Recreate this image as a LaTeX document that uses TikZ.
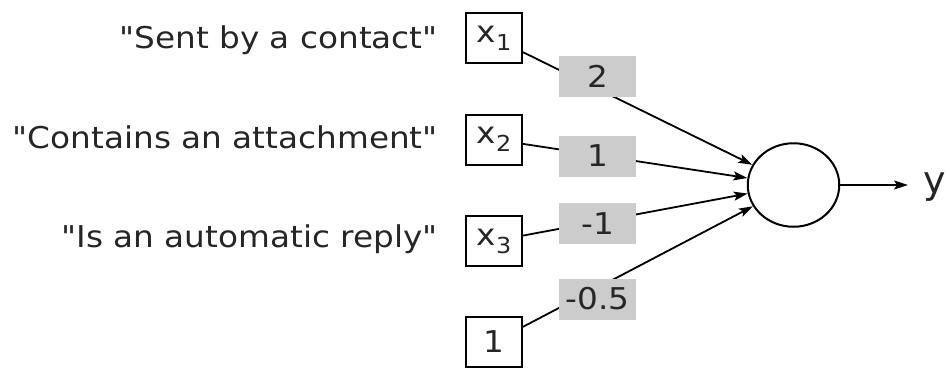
\documentclass[tikz,border=0pt]{standalone}
\usepackage{fontspec}
\setmainfont{DejaVu Sans}[FakeStretch=1.09,Ligatures=TeXOff]
\newfontfamily\yfont{DejaVu Sans}
\usetikzlibrary{arrows.meta,shapes.geometric}
\begin{document}
\begin{tikzpicture}[x=1pt,y=-1pt,
  lbl/.style={anchor=base east,inner sep=0pt,font=\fontsize{30}{36}\selectfont,text=black!85},
  inbox/.style={draw,line width=2pt,minimum width=56pt,minimum height=50pt,inner sep=0pt,font=\fontsize{30}{36}\selectfont,text=black!85},
  wbox/.style={fill=black!20,minimum width=77pt,minimum height=41pt,inner sep=0pt,font=\fontsize{30}{36}\selectfont,text=black!85},
  neuron/.style={draw,ellipse,line width=2pt,minimum width=91.5pt,minimum height=83.5pt,inner sep=0pt},
  arr/.style={line width=1.8pt,-{Stealth[length=14pt,width=9pt,inset=3pt]}}]
\newcommand{\sbx}[1]{x\raisebox{-0.27em}{\fontsize{22}{22}\selectfont #1}}
\useasboundingbox (0,0) rectangle (947,367);
\node[lbl] (l1) at (438,48) {"Sent by a contact"};
\node[lbl] (l2) at (438,148) {"Contains an attachment"};
\node[lbl] (l3) at (438,247) {"Is an automatic reply"};
\node[inbox] (x1) at (494,38) {\sbx{1}};
\node[inbox] (x2) at (494,139.5) {\sbx{2}};
\node[inbox] (x3) at (494,241) {\sbx{3}};
\node[inbox] (b) at (494,342) {1};
\node[neuron] (n) at (793.5,185) {};
\coordinate (yout) at (908,185);
\draw[arr] (x1) -- (n);
\draw[arr] (x2) -- (n);
\draw[arr] (x3) -- (n);
\draw[arr] (b) -- (n);
\draw[arr] (n) -- (yout);
\node[wbox] (w1) at (597.5,76.5) {2};
\node[wbox] (w2) at (597.5,156) {1};
\node[wbox] (w3) at (597.5,223.5) {-1};
\node[wbox] (w4) at (597.5,299) {-0.5};
\node[anchor=base west,inner sep=0pt,font=\yfont\fontsize{38}{44}\selectfont,text=black!85] (y) at (923,193) {y};
\end{tikzpicture}
\end{document}
